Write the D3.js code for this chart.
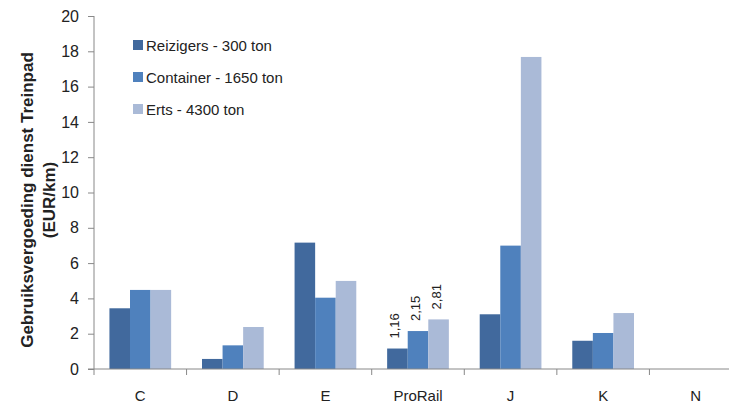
<!DOCTYPE html>
<html><head><meta charset="utf-8">
<script src="https://cdn.jsdelivr.net/npm/d3@7"></script>
<style>body{margin:0;background:#fff;overflow:hidden}svg{display:block}text{font-family:"Liberation Sans",Arial,sans-serif;fill:#222}</style>
</head><body><svg id="c" width="729" height="405"></svg>
<script>
const categories = ["C","D","E","ProRail","J","K","N"];
const seriesNames = ["Reizigers - 300 ton","Container - 1650 ton","Erts - 4300 ton"];
const reizigers = [3.44, 0.57, 7.16, 1.16, 3.1, 1.6, null];
const container = [4.48, 1.34, 4.04, 2.15, 6.99, 2.04, null];
const erts = [4.48, 2.38, 4.99, 2.81, 17.68, 3.17, null];
const seriesColors = ["#41699D","#4F81BD","#AABAD7"];
const yTicks = [0,2,4,6,8,10,12,14,16,18,20];
const labelled = {"ProRail": ["1,16","2,15","2,81"]};

const svg = d3.select("#c");
const pLeft = 94, pRight = 742, pTop = 16, pBottom = 369;
const x0 = d3.scaleBand().domain(categories).range([pLeft, pRight]).padding(0);
const x1 = d3.scaleBand().domain(seriesNames).range([0, x0.bandwidth()]).paddingInner(0).paddingOuter(0.75);
const y = d3.scaleLinear().domain([0,20]).range([pBottom, pTop]);
const values = [reizigers, container, erts];

// bars
categories.forEach((c, i) => {
  seriesNames.forEach((s, j) => {
    const v = values[j][i];
    if (v == null) return;
    svg.append("rect")
      .attr("x", x0(c) + x1(s)).attr("width", x1.bandwidth())
      .attr("y", y(v)).attr("height", y(0) - y(v))
      .attr("fill", seriesColors[j]);
    if (labelled[c]) {
      const cx = x0(c) + x1(s) + x1.bandwidth()/2;
      svg.append("text")
        .attr("transform", `translate(${cx+2},${y(v)-10}) rotate(-90)`)
        .attr("font-size", 13).attr("text-anchor","start")
        .text(labelled[c][j]);
    }
  });
});

// y axis
const yAxis = svg.append("g").attr("transform", `translate(${pLeft},0)`)
  .call(d3.axisLeft(y).tickValues(yTicks).tickSize(6).tickPadding(9).tickFormat(d3.format("d")));
yAxis.select(".domain").attr("stroke","#888").attr("d", `M0,${pTop}V${pBottom}`);
yAxis.selectAll(".tick line").attr("stroke","#888");
yAxis.selectAll(".tick text").attr("font-size", 16).attr("fill","#222").attr("font-family","Liberation Sans, Arial, sans-serif");

// x axis
const xAxis = svg.append("g").attr("transform", `translate(0,${pBottom})`)
  .call(d3.axisBottom(x0).tickSize(0).tickPadding(21));
xAxis.select(".domain").attr("stroke","#888").attr("d", `M${pLeft-6},0H${pRight}`);
xAxis.selectAll(".tick text").attr("font-size", 15).attr("fill","#222").attr("font-family","Liberation Sans, Arial, sans-serif");
// category separator ticks
const sepPos = categories.map(c => x0(c)).concat([pRight]);
svg.append("g").selectAll("line").data(sepPos).join("line")
  .attr("x1", d=>d).attr("x2", d=>d).attr("y1", pBottom).attr("y2", pBottom+6)
  .attr("stroke","#888");

// y title
const yt = svg.append("text").attr("transform", `translate(33,200) rotate(-90)`)
  .attr("text-anchor","middle").attr("font-weight","bold").attr("font-size", 17);
yt.append("tspan").attr("x",0).attr("dy",0).text("Gebruiksvergoeding dienst Treinpad");
yt.append("tspan").attr("x",0).attr("dy",22).text("(EUR/km)");

// legend
const leg = svg.append("g").attr("transform","translate(133,40)");
seriesNames.forEach((s, j) => {
  const g = leg.append("g").attr("transform", `translate(0,${j*32})`);
  g.append("rect").attr("width",10).attr("height",10).attr("fill",seriesColors[j]);
  g.append("text").attr("x",13).attr("y",10.5).attr("font-size",15).text(s);
});
</script></body></html>
